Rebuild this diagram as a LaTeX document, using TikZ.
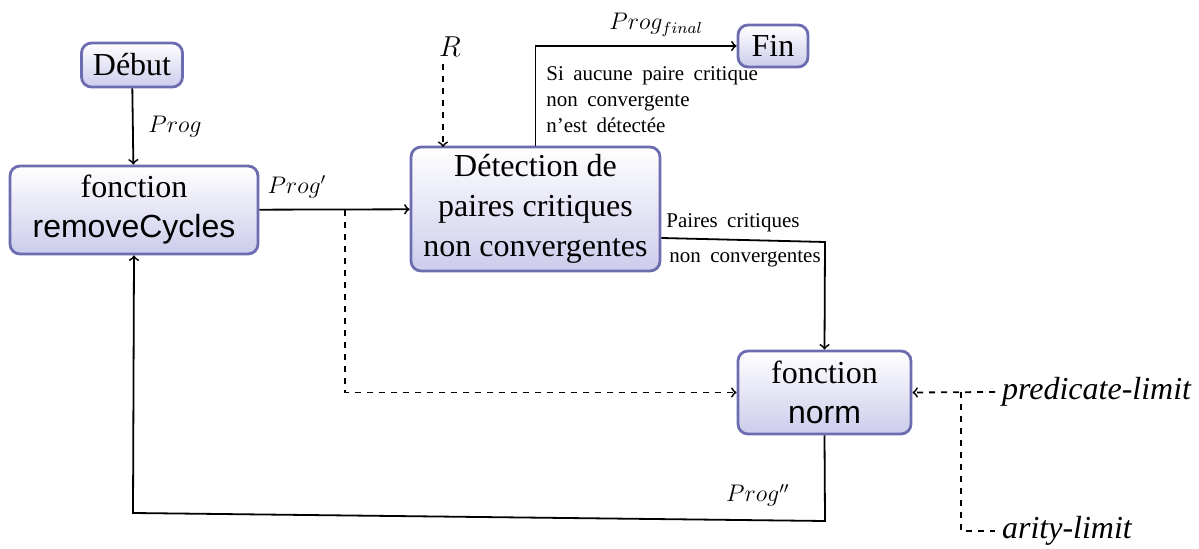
\documentclass[tikz,border=0pt]{standalone}
\usepackage{fontspec}
\setmainfont{Liberation Serif}
\setsansfont{Liberation Sans}
\usetikzlibrary{positioning}

\definecolor{boxborder}{RGB}{108,108,176}
\definecolor{boxfill}{RGB}{204,204,236}
\newcommand{\espacelarge}{\spaceskip=0.45em plus 0.1em\relax}

\tikzset{
	etape/.style={draw=boxborder, line width=1.4pt, rounded corners=5pt,
		top color=white, bottom color=boxfill, align=center, inner sep=2pt,
		font=\fontsize{16}{20}\selectfont},
	lien/.style={line width=0.9pt, ->},
	option/.style={line width=0.9pt, dashed},
	etiquette/.style={font=\fontsize{10.5}{13}\selectfont\espacelarge, inner sep=1pt},
	flux/.style={font=\large}
}

\begin{document}
\begin{tikzpicture}[x=0.5pt, y=-0.5pt]
		\useasboundingbox (0,0) rectangle (1199,549);

		% les etapes
		\node (debut) [etape, minimum width=50.5pt, minimum height=22pt] at (132,65) {Début};
		\node (cycles) [etape, minimum width=124pt, minimum height=44pt] at (134,210) {fonction\\\sffamily removeCycles};
		\node (detection) [etape, minimum width=124.5pt, minimum height=62pt] at (535.5,209) {Détection de\\paires critiques\\non convergentes};
		\node (fin) [etape, minimum width=35pt, minimum height=21pt] at (773,46) {Fin};
		\node (norm) [etape, minimum width=86.5pt, minimum height=41.5pt] at (824.5,392.5) {fonction\\\sffamily norm};

		% les entrees
		\node (regles) [font=\fontsize{14}{16}\selectfont] at (450,47) {$R$};
		\node (predicat) [anchor=west, font=\fontsize{16}{20}\selectfont\itshape] at (995,392) {predicate-limit};
		\node (arite) [anchor=west, font=\fontsize{16}{20}\selectfont\itshape] at (995,531) {arity-limit};

		\coordinate (branche) at (345,210);
		\coordinate (coude) at (961,392);
		\coordinate (paires) at (825,242);
		\coordinate (basdroit) at (825,521);
		\coordinate (basgauche) at (133,513);

		% les liens
		\draw [lien] (debut) -- node [right=4pt, flux] {$Prog$} (cycles);
		\draw [lien] (cycles) -- node [pos=0.25, above=2pt, flux] {$Prog'$} (detection);
		\draw [option, ->] (branche) |- (norm.west);
		\draw [option, ->] (regles.south -| 443,0) -- (443,147);
		\draw [lien] (detection.north) |- node [pos=0.8, above=1pt, flux] {$Prog_{final}$} (fin.west);
		\node [etiquette, anchor=north west, align=left] at (544,64) {Si aucune paire critique\\non convergente\\n'est détectée};
		\draw [lien] (detection.east |- 0,238) -- (paires) -- (norm.north);
		\node [etiquette, anchor=south] at (733,234) {Paires critiques};
		\node [etiquette, anchor=north] at (745,248) {non convergentes};
		\draw [lien] (norm.south) -- (basdroit) -- node [pos=0.097, above=3pt, flux] {$Prog''$} (basgauche) -- (cycles.south);
		\draw [option, ->] (predicat.west) -- (norm.east);
		\draw [option] (coude) |- (arite.west);
	\end{tikzpicture}
\end{document}
